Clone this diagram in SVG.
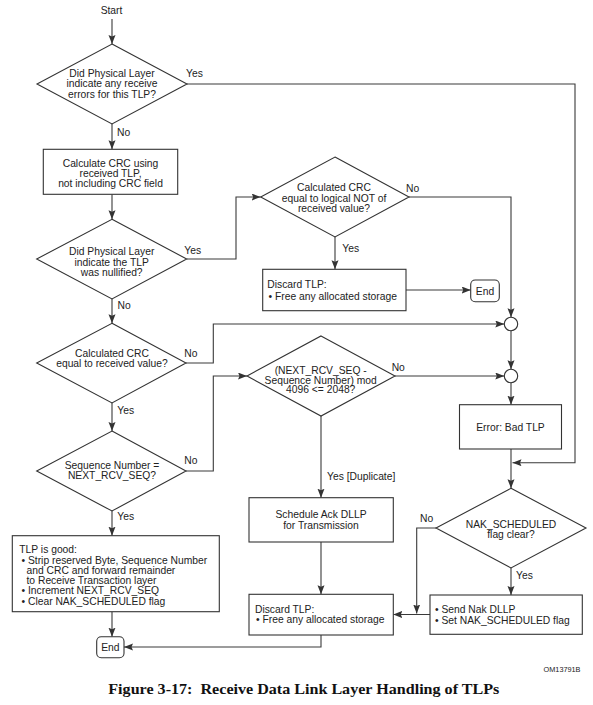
<svg xmlns="http://www.w3.org/2000/svg" width="593" height="705" viewBox="0 0 593 705">
<style>
  .shape { fill: #ffffff; stroke: #333333; stroke-width: 1.1; }
  .conn { fill: none; stroke: #3a3a3a; stroke-width: 1.1; }
  text { font-family: "Liberation Sans", Arial, sans-serif; font-size: 10.3px; fill: #222222; }
  .c { text-anchor: middle; }
  .cap { font-family: "Liberation Serif", "Times New Roman", serif; font-size: 14.5px; font-weight: bold; fill: #111111; white-space: pre; }
  .small { font-size: 7.3px; }
</style>
<defs>
  <marker id="arr" markerUnits="userSpaceOnUse" markerWidth="10" markerHeight="8" refX="9" refY="3.5" orient="auto">
    <path d="M0,0 L9,3.5 L0,7 L1.5,3.5 z" fill="#333333"/>
  </marker>
</defs>
<rect width="593" height="705" fill="#ffffff"/>

<g id="connectors">
  <path class="conn" marker-end="url(#arr)" d="M112,19 L112,44"/>
  <path class="conn" marker-end="url(#arr)" d="M187,84 L575,84 L575,462.7 L512.5,462.7"/>
  <path class="conn" marker-end="url(#arr)" d="M112,124 L112,149.3"/>
  <path class="conn" marker-end="url(#arr)" d="M112,194.3 L112,219.3"/>
  <path class="conn" marker-end="url(#arr)" d="M186.7,259 L236,259 L236,197 L260.7,197"/>
  <path class="conn" marker-end="url(#arr)" d="M112,299 L112,323.3"/>
  <path class="conn" marker-end="url(#arr)" d="M409,197 L511,197 L511,317.3"/>
  <path class="conn" marker-end="url(#arr)" d="M335,237 L335,269.3"/>
  <path class="conn" marker-end="url(#arr)" d="M406,290 L470.7,290"/>
  <path class="conn" marker-end="url(#arr)" d="M186,363 L213.3,363 L213.3,324 L504.3,324"/>
  <path class="conn" marker-end="url(#arr)" d="M112,403 L112,431"/>
  <path class="conn" marker-end="url(#arr)" d="M186,471 L213.3,471 L213.3,376 L247,376"/>
  <path class="conn" marker-end="url(#arr)" d="M112,511 L112,535.7"/>
  <path class="conn" marker-end="url(#arr)" d="M511,330.7 L511,369.3"/>
  <path class="conn" marker-end="url(#arr)" d="M395,376 L504.3,376"/>
  <path class="conn" marker-end="url(#arr)" d="M511,382.7 L511,404.7"/>
  <path class="conn" marker-end="url(#arr)" d="M511,449 L511,488.3"/>
  <path class="conn" marker-end="url(#arr)" d="M321,416 L321,497.7"/>
  <path class="conn" marker-end="url(#arr)" d="M321,542 L321,594.3"/>
  <path class="conn" marker-end="url(#arr)" d="M436,528 L416.7,528 L416.7,613.5"/>
  <path class="conn" marker-end="url(#arr)" d="M511,568 L511,595"/>
  <path class="conn" marker-end="url(#arr)" d="M430,614.5 L393.3,614.5"/>
  <path class="conn" marker-end="url(#arr)" d="M112,611.7 L112,636.7"/>
  <path class="conn" marker-end="url(#arr)" d="M321,635 L321,647 L124,647"/>
</g>

<g id="labels">
  <text x="186" y="76.5">Yes</text>
  <text x="117" y="135.5">No</text>
  <text x="184.3" y="254">Yes</text>
  <text x="117.5" y="308.5">No</text>
  <text x="406" y="191.5">No</text>
  <text x="342.3" y="251.5">Yes</text>
  <text x="184.3" y="357">No</text>
  <text x="117.3" y="413.5">Yes</text>
  <text x="184.3" y="463.5">No</text>
  <text x="117.3" y="519.5">Yes</text>
  <text x="391.7" y="371">No</text>
  <text x="327" y="479.5">Yes [Duplicate]</text>
  <text x="420" y="522">No</text>
  <text x="516" y="578.5">Yes</text>
</g>

<g id="start">
  <text class="c" x="111.5" y="14">Start</text>
</g>

<g id="d-phys-errors">
  <polygon class="shape" points="112,44 187,84 112,124 37,84"/>
  <text class="c" x="112" y="76.5">Did Physical Layer</text>
  <text class="c" x="112" y="87">indicate any receive</text>
  <text class="c" x="112" y="97.5">errors for this TLP?</text>
</g>

<g id="calc-crc">
  <rect class="shape" x="43.3" y="149.3" width="134.4" height="45"/>
  <text class="c" x="110.5" y="166.5">Calculate CRC using</text>
  <text class="c" x="110.5" y="176.5">received TLP,</text>
  <text class="c" x="110.5" y="186.5">not including CRC field</text>
</g>

<g id="d-nullified">
  <polygon class="shape" points="112,219.3 186.7,259 112,299 36.7,259"/>
  <text class="c" x="111.7" y="255">Did Physical Layer</text>
  <text class="c" x="111.7" y="265.5">indicate the TLP</text>
  <text class="c" x="111.7" y="276">was nullified?</text>
</g>

<g id="d-crc-not">
  <polygon class="shape" points="335,157 409,197 335,237 260.7,197"/>
  <text class="c" x="334" y="191">Calculated CRC</text>
  <text class="c" x="334" y="201.5">equal to logical NOT of</text>
  <text class="c" x="334" y="212">received value?</text>
</g>

<g id="discard-1">
  <rect class="shape" x="262.7" y="269.3" width="143.3" height="41.4"/>
  <text x="267.3" y="288">Discard TLP:</text>
  <text x="268.5" y="299.5">• Free any allocated storage</text>
</g>

<g id="end-1">
  <rect class="shape" x="470.7" y="280" width="28.6" height="21.7" rx="4.5"/>
  <text class="c" x="485" y="294.5">End</text>
</g>

<g id="d-crc-equal">
  <polygon class="shape" points="112,323.3 186,363 112,403 36.7,363"/>
  <text class="c" x="112" y="357">Calculated CRC</text>
  <text class="c" x="112" y="367">equal to received value?</text>
</g>

<g id="d-seq">
  <polygon class="shape" points="112,431 186,471 112,511 36.7,471"/>
  <text class="c" x="112" y="468.5">Sequence Number =</text>
  <text class="c" x="112" y="479">NEXT_RCV_SEQ?</text>
</g>

<g id="d-mod">
  <polygon class="shape" points="321,336 395,376 321,416 247,376"/>
  <text class="c" x="320.7" y="373.5">(NEXT_RCV_SEQ -</text>
  <text class="c" x="320.7" y="383.5">Sequence Number) mod</text>
  <text class="c" x="320.7" y="393">4096 &lt;= 2048?</text>
</g>

<g id="junction-1">
  <circle class="shape" cx="511" cy="324" r="6.7"/>
</g>
<g id="junction-2">
  <circle class="shape" cx="511" cy="376" r="6.7"/>
</g>

<g id="error-bad-tlp">
  <rect class="shape" x="459.5" y="404.7" width="102" height="44.3"/>
  <text class="c" x="510.5" y="430.5">Error: Bad TLP</text>
</g>

<g id="d-nak">
  <polygon class="shape" points="511,488.3 586,528 511,568 436,528"/>
  <text class="c" x="511" y="528">NAK_SCHEDULED</text>
  <text class="c" x="511" y="537.5">flag clear?</text>
</g>

<g id="schedule-ack">
  <rect class="shape" x="249" y="497.7" width="144.3" height="44.3"/>
  <text class="c" x="321" y="517.5">Schedule Ack DLLP</text>
  <text class="c" x="321" y="528.5">for Transmission</text>
</g>

<g id="discard-2">
  <rect class="shape" x="249" y="594.3" width="144.3" height="40.7"/>
  <text x="255" y="612.5">Discard TLP:</text>
  <text x="256" y="623">• Free any allocated storage</text>
</g>

<g id="send-nak">
  <rect class="shape" x="430" y="595" width="152.3" height="39.3"/>
  <text x="435" y="612.5">• Send Nak DLLP</text>
  <text x="435" y="624">• Set NAK_SCHEDULED flag</text>
</g>

<g id="tlp-good">
  <rect class="shape" x="12.3" y="535.7" width="207" height="76"/>
  <text x="19.3" y="552.5">TLP is good:</text>
  <text x="21.5" y="563.5">• Strip reserved Byte, Sequence Number</text>
  <text x="26.5" y="573.5">and CRC and forward remainder</text>
  <text x="26.5" y="583.5">to Receive Transaction layer</text>
  <text x="21.5" y="594">• Increment NEXT_RCV_SEQ</text>
  <text x="21.5" y="604.5">• Clear NAK_SCHEDULED flag</text>
</g>

<g id="end-2">
  <rect class="shape" x="96.7" y="636.7" width="27.3" height="21" rx="4.5"/>
  <text class="c" x="110.3" y="650.5">End</text>
</g>

<text class="small" x="580.5" y="672" text-anchor="end">OM13791B</text>
<text class="cap" x="108.3" y="694" textLength="391" lengthAdjust="spacingAndGlyphs">Figure 3-17:  Receive Data Link Layer Handling of TLPs</text>
</svg>
